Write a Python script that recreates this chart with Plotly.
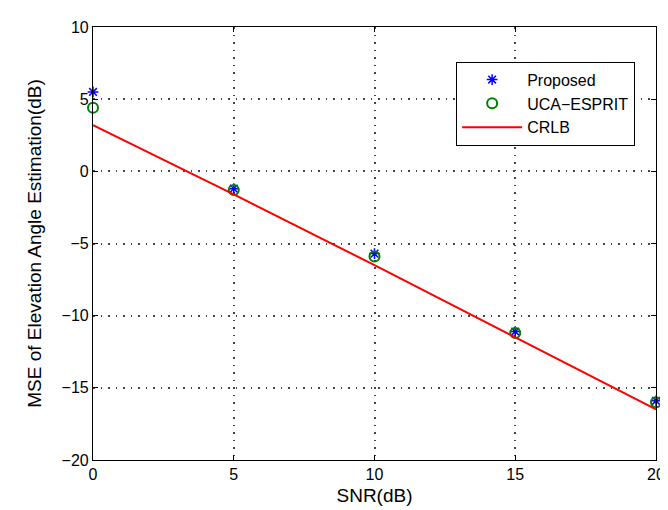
import plotly.graph_objects as go

snr = [0, 5, 10, 15, 20]
proposed = [5.5, -1.2, -5.7, -11.1, -15.9]
uca_esprit = [4.4, -1.3, -5.9, -11.2, -16.0]
crlb = [3.2, -1.6, -6.5, -11.5, -16.5]

font = "Liberation Sans, Arial, sans-serif"

fig = go.Figure()
fig.add_trace(go.Scatter(x=snr, y=proposed, mode="markers", name="Proposed",
                         marker=dict(symbol="asterisk-open", size=9, color="blue",
                                     line=dict(color="blue", width=1.5)),
                         cliponaxis=False))
fig.add_trace(go.Scatter(x=snr, y=uca_esprit, mode="markers", name="UCA\u2212ESPRIT",
                         marker=dict(symbol="circle-open", size=10, color="green",
                                     line=dict(color="green", width=2)),
                         cliponaxis=False))
fig.add_trace(go.Scatter(x=snr, y=crlb, mode="lines", name="CRLB",
                         line=dict(color="red", width=2)))

fig.update_layout(
    width=668, height=510,
    margin=dict(l=85, r=11, t=11, b=58),
    paper_bgcolor="white", plot_bgcolor="white",
    font=dict(family=font, size=16, color="black"),
    showlegend=True,
    legend=dict(x=0.645, y=0.92, xanchor="left", yanchor="top",
                bgcolor="white", bordercolor="black", borderwidth=1,
                font=dict(size=16), tracegroupgap=0, itemwidth=60),
)
grid = dict(showgrid=True, gridcolor="#444444", griddash="1.5px,6px", gridwidth=1.5,
            showline=True, linecolor="black", linewidth=1.2, mirror="ticks",
            ticks="inside", ticklen=5, tickcolor="black", zeroline=False)
fig.update_xaxes(range=[0, 20], tickvals=[0, 5, 10, 15, 20],
                 title=dict(text="SNR(dB)", standoff=6), **grid)
fig.update_yaxes(range=[-20, 10], tickvals=[-20, -15, -10, -5, 0, 5, 10],
                 ticktext=["\u221220", "\u221215", "\u221210", "\u22125", "0", "5", "10"],
                 title=dict(text="MSE of Elevation Angle Estimation(dB)", standoff=14), **grid)

fig.write_html("out.html")
